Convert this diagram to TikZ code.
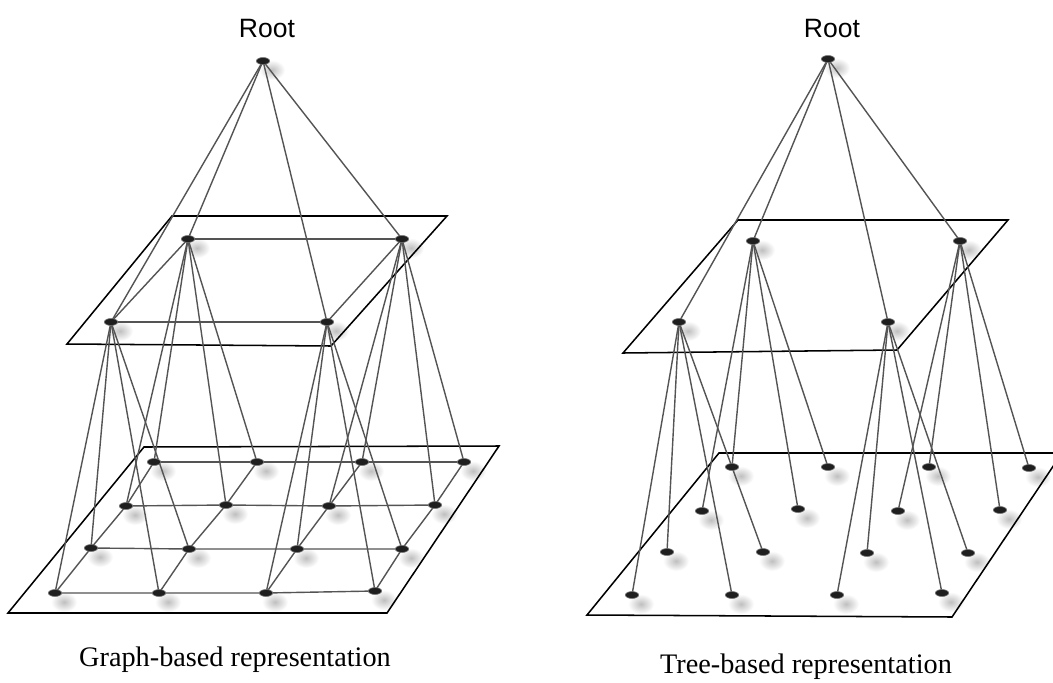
\documentclass[tikz,border=0pt]{standalone}
\usepackage{fontspec}
\setmainfont{Liberation Serif}
\newfontfamily\labelsans{Liberation Sans}
\usetikzlibrary{shapes.geometric}
\pgfdeclarelayer{paper}
\pgfdeclarelayer{shadows}
\pgfdeclarelayer{planes}
\pgfdeclarelayer{links}
\pgfsetlayers{paper,shadows,planes,links,main}

\tikzset{
  dot/.style={ellipse, fill=black!88, draw=black!55, line width=0.45pt,
    minimum width=10pt, minimum height=5.2pt, inner sep=0pt},
  dotshadow/.style={inner color=black!25, outer color=white},
  plane/.style={draw=black, line width=1.15pt, line join=miter},
  link/.style={draw=black!67, line width=1.05pt},
  roottext/.style={font=\labelsans\fontsize{19.9}{24}\selectfont, anchor=base, inner sep=0pt},
  captiontext/.style={font=\fontsize{21.2}{26}\selectfont, anchor=base, inner sep=0pt},
}

\begin{document}
\begin{tikzpicture}[x=0.75pt, y=-0.75pt]
  \useasboundingbox (0,0) rectangle (1053,682);
  \clip (0,0) rectangle (1053,682);
  \begin{pgfonlayer}{paper}
    \fill[white] (0,0) rectangle (1053,682);
  \end{pgfonlayer}

  % ---------------- Graph-based representation ----------------
  \node[roottext] (gRootLabel) at (267,37) {Root};
  \node[dot] (gR) at (263,61) {};

  % middle level
  \node[dot] (gA) at (188,239) {};
  \node[dot] (gB) at (402,239) {};
  \node[dot] (gC) at (111,322) {};
  \node[dot] (gD) at (327,322) {};

  % bottom level grid
  \node[dot] (g11) at (154,462) {};
  \node[dot] (g12) at (257,462) {};
  \node[dot] (g13) at (362,462) {};
  \node[dot] (g14) at (464,462) {};
  \node[dot] (g21) at (126,506) {};
  \node[dot] (g22) at (226,505) {};
  \node[dot] (g23) at (329,506) {};
  \node[dot] (g24) at (435,505) {};
  \node[dot] (g31) at (91,548) {};
  \node[dot] (g32) at (189,549) {};
  \node[dot] (g33) at (297,549) {};
  \node[dot] (g34) at (402,549) {};
  \node[dot] (g41) at (55,593) {};
  \node[dot] (g42) at (159,593) {};
  \node[dot] (g43) at (266,593) {};
  \node[dot] (g44) at (375,591) {};

  \node[captiontext] (gCaption) at (235,666) {Graph-based representation};

  % ---------------- Tree-based representation ----------------
  \node[roottext] (tRootLabel) at (832,37) {Root};
  \node[dot] (tR) at (828,59) {};

  \node[dot] (tA) at (753,241) {};
  \node[dot] (tB) at (960,241) {};
  \node[dot] (tC) at (679,322) {};
  \node[dot] (tD) at (888,322) {};

  \node[dot] (t11) at (732,467) {};
  \node[dot] (t12) at (828,467) {};
  \node[dot] (t13) at (929,467) {};
  \node[dot] (t14) at (1029,468) {};
  \node[dot] (t21) at (702,511) {};
  \node[dot] (t22) at (798,509) {};
  \node[dot] (t23) at (898,511) {};
  \node[dot] (t24) at (1000,510) {};
  \node[dot] (t31) at (667,552) {};
  \node[dot] (t32) at (763,552) {};
  \node[dot] (t33) at (867,553) {};
  \node[dot] (t34) at (968,553) {};
  \node[dot] (t41) at (632,595) {};
  \node[dot] (t42) at (732,595) {};
  \node[dot] (t43) at (837,595) {};
  \node[dot] (t44) at (942,593) {};

  \node[captiontext] (tCaption) at (806,673) {Tree-based representation};

  % ---------------- soft drop shadows under the dots ----------------
  \begin{pgfonlayer}{shadows}
    \foreach \s in {g,t}
      \foreach \n in {R,A,B,C,D,11,12,13,14,21,22,23,24,31,32,33,34,41,42,43,44}
        \shade[dotshadow] ([shift={(9,9)}]\s\n.center) ellipse [x radius=13, y radius=10];
  \end{pgfonlayer}

  % ---------------- planes ----------------
  \begin{pgfonlayer}{planes}
    \draw[plane] (172,216) -- (447,216) -- (331,346) -- (67,344) -- cycle;
    \draw[plane] (144,447) -- (499,446) -- (387,613) -- (8,613) -- cycle;
    \draw[plane] (738,220) -- (1008,220) -- (897,350) -- (623,353) -- cycle;
    \draw[plane] (719,453) -- (1062,453) -- (952,617) -- (587,615) -- cycle;
  \end{pgfonlayer}

  % ---------------- connectors ----------------
  \begin{pgfonlayer}{links}
    % root to middle level
    \foreach \s in {g,t}
      \foreach \m in {A,B,C,D}
        \draw[link] (\s R.center) -- (\s\m.center);
    % middle level to bottom level (each middle node owns a 2x2 block)
    \foreach \s in {g,t}{
      \foreach \b in {11,12,21,22} \draw[link] (\s A.center) -- (\s\b.center);
      \foreach \b in {13,14,23,24} \draw[link] (\s B.center) -- (\s\b.center);
      \foreach \b in {31,32,41,42} \draw[link] (\s C.center) -- (\s\b.center);
      \foreach \b in {33,34,43,44} \draw[link] (\s D.center) -- (\s\b.center);
    }
    % graph links inside the middle plane
    \draw[link] (gA.center) -- (gB.center);
    \draw[link] (gC.center) -- (gD.center);
    \draw[link] (gA.center) -- (gC.center);
    \draw[link] (gB.center) -- (gD.center);
    % graph links inside the bottom plane
    \foreach \r in {1,2,3,4}{
      \draw[link] (g\r1.center) -- (g\r2.center) -- (g\r3.center) -- (g\r4.center);
      \draw[link] (g1\r.center) -- (g2\r.center) -- (g3\r.center) -- (g4\r.center);
    }
  \end{pgfonlayer}
\end{tikzpicture}
\end{document}
